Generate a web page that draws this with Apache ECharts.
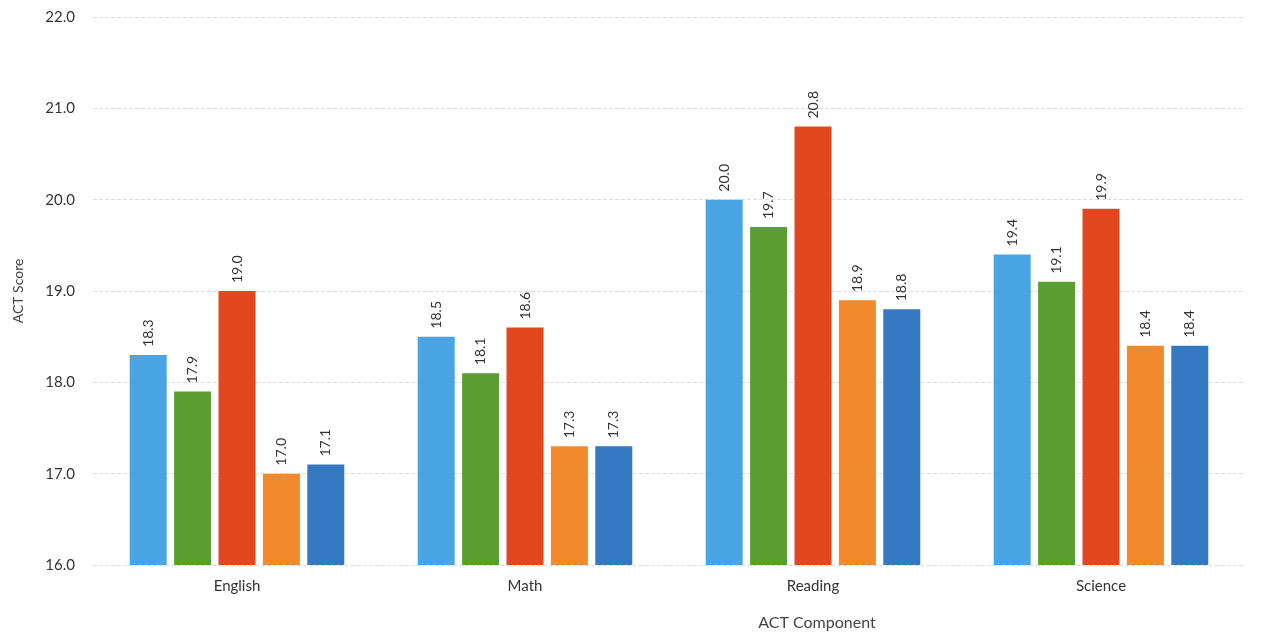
<!DOCTYPE html>
<html>
<head>
<meta charset="utf-8">
<title>ACT Score by Component</title>
<script src="https://cdn.jsdelivr.net/npm/echarts@6/dist/echarts.min.js"></script>
<style>
  html, body { margin: 0; padding: 0; background: #fff; }
  #chart { width: 1281px; height: 644px; }
</style>
</head>
<body>
<div id="chart"></div>
<script>
const categories = ['English', 'Math', 'Reading', 'Science']
const seriesNames = ['Group 1', 'Group 2', 'Group 3', 'Group 4', 'Group 5']
const group1 = [18.3, 18.5, 20.0, 19.4]
const group2 = [17.9, 18.1, 19.7, 19.1]
const group3 = [19.0, 18.6, 20.8, 19.9]
const group4 = [17.0, 17.3, 18.9, 18.4]
const group5 = [17.1, 17.3, 18.8, 18.4]
const colors = ['#4aa3e2', '#5b9e30', '#e2471f', '#f08a2c', '#3479c1']

const chart = echarts.init(document.getElementById('chart'))
const font = 'Lato, "Open Sans", sans-serif'

const allData = [group1, group2, group3, group4, group5]

chart.setOption({
  animation: false,
  textStyle: { fontFamily: font },
  title: {
    text: 'ACT Component',
    left: 812,
    top: 610,
    textAlign: 'center',
    textStyle: { fontSize: 16, fontWeight: 'normal', color: '#444', fontFamily: font }
  },
  grid: { left: 93, right: 36, top: 17, bottom: 79 },
  xAxis: {
    type: 'category',
    data: categories,
    axisLine: { show: false },
    axisTick: { show: false },
    axisLabel: { color: '#333', fontSize: 15, margin: 14 }
  },
  yAxis: {
    type: 'value',
    min: 16,
    max: 22,
    interval: 1,
    name: 'ACT Score',
    nameLocation: 'middle',
    nameGap: 68,
    nameTextStyle: { color: '#444', fontSize: 14 },
    axisLabel: {
      color: '#333',
      fontSize: 15,
      margin: 18,
      formatter: v => v.toFixed(1)
    },
    splitLine: { lineStyle: { color: '#dcdcdc', type: 'dashed' } }
  },
  series: allData.map((d, i) => ({
    name: seriesNames[i],
    type: 'bar',
    data: d,
    barWidth: 37,
    barGap: '20%',
    itemStyle: { color: colors[i] },
    label: {
      show: true,
      position: 'top',
      rotate: 90,
      align: 'left',
      verticalAlign: 'middle',
      distance: 8,
      color: '#333',
      fontSize: 14,
      formatter: p => p.value.toFixed(1)
    }
  }))
})
</script>
</body>
</html>
